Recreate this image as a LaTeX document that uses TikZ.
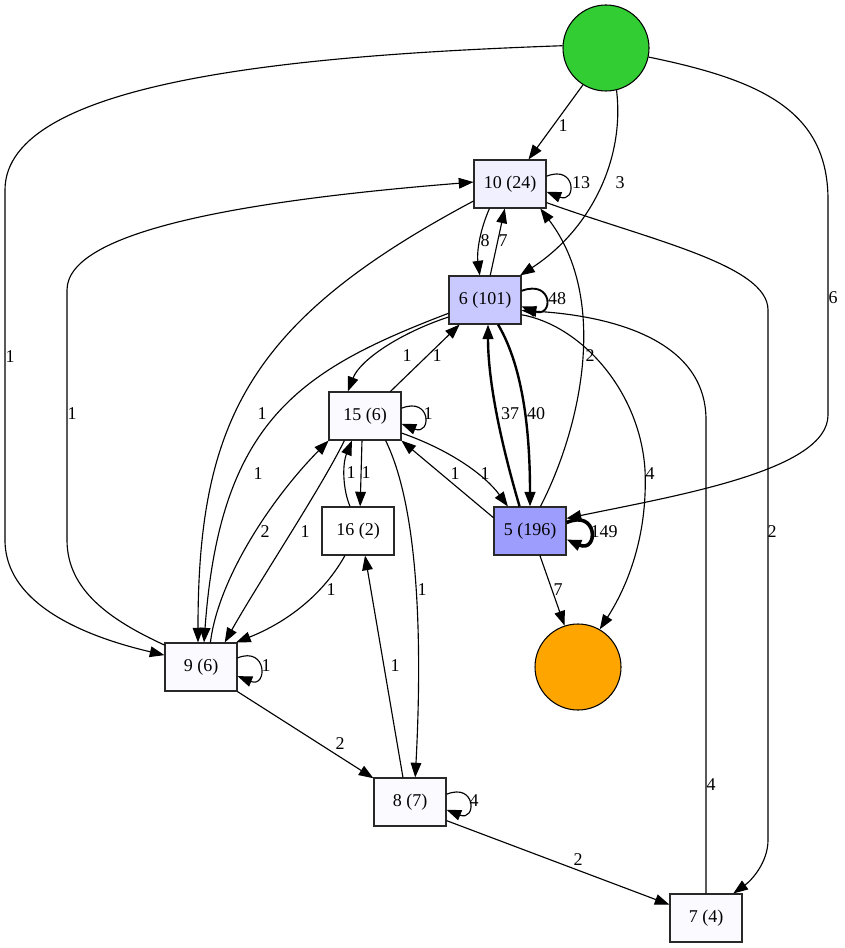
\documentclass[tikz,border=0pt]{standalone}
\usepackage{fontspec}
\setmainfont{Liberation Serif}
\usetikzlibrary{arrows.meta}
\definecolor{cTen}{RGB}{240,240,255}
\definecolor{cSix}{RGB}{201,201,255}
\definecolor{cFive}{RGB}{157,157,254}
\definecolor{cPale}{RGB}{250,250,255}
\definecolor{cGreen}{RGB}{50,205,50}
\definecolor{cOrange}{RGB}{255,165,0}
\definecolor{cBorder}{RGB}{40,40,40}
\begin{document}
\begin{tikzpicture}[x=0.75pt,y=-0.75pt,
  box/.style={draw=cBorder, line width=0.8pt, rectangle, minimum width=54pt, minimum height=36pt, inner sep=0pt, font=\fontsize{13.5}{16}\selectfont},
  circ/.style={draw, line width=0.8pt, circle, minimum size=64.5pt, inner sep=0pt},
  tip/.style={-{Triangle[length=11pt,width=8pt]}},
  edge/.style={line width=0.85pt, tip},
  thickedge/.style={line width=1.8pt, tip},
  heavyedge/.style={line width=2.7pt, tip},
  lab/.style={inner sep=0pt, font=\fontsize{13.5}{16}\selectfont},
]
\useasboundingbox (0,0) rectangle (844,948);
% nodes
\node[circ, fill=cGreen] (s) at (606,48) {};
\node[circ, fill=cOrange] (e) at (578,667) {};
\node[box, fill=cTen] (n10) at (510,184) {10 (24)};
\node[box, fill=cSix] (n6) at (485,300) {6 (101)};
\node[box, fill=cPale] (n15) at (365,416) {15 (6)};
\node[box, fill=white] (n16) at (358,531) {16 (2)};
\node[box, fill=cFive] (n5) at (530,531) {5 (196)};
\node[box, fill=cPale] (n9) at (201,667) {9 (6)};
\node[box, fill=cPale] (n8) at (410,802) {8 (7)};
\node[box, fill=cPale] (n7) at (706,918) {7 (4)};

% edges
\draw[edge] (s.-122) -- (n10.53);
\node[lab] (l1) at (563,126) {1};
\draw[edge] (s.-76) .. controls (625,160) and (590,230) .. (n6.35);
\node[lab] (l2) at (620,183) {3};
\draw[edge] (s.-12) .. controls (760,80) and (828,110) .. (828,200) -- (828,415) .. controls (828,470) and (680,495) .. (n5.19);
\node[lab] (l3) at (833,298) {6};
\draw[edge] (s.177) .. controls (300,55) and (5,80) .. (5,190) -- (5,540) .. controls (5,610) and (100,640) .. (n9.162);
\node[lab] (l4) at (10,357) {1};

\draw[edge] (n10.12) .. controls +(30,-12) and +(30,12) .. (n10.-12);
\node[lab] (l5) at (581,183) {13};
\draw[edge] (n10.-130) .. controls (478,235) and (477,255) .. (n6.102);
\node[lab] (l6) at (485,241) {8};
\draw[edge] (n6.78) -- (n10.-102);
\node[lab] (l7) at (503,241) {7};
\draw[edge] (n10.-155) .. controls (250,320) and (198,420) .. (n9.97);
\node[lab] (l8) at (262,414) {1};
\draw[edge] (n10.-27) .. controls (650,240) and (768,265) .. (768,310) -- (768,840) .. controls (768,862) and (752,880) .. (n7.42);
\node[lab] (l9) at (772,532) {2};
\draw[edge] (n9.149) .. controls (110,620) and (67,590) .. (67,540) -- (67,290) .. controls (67,230) and (250,200) .. (n10.177);
\node[lab] (l10) at (72,414) {1};

\draw[line width=1.4pt, tip] (n6.14) .. controls +(32,-12) and +(32,12) .. (n6.-10);
\node[lab] (l11) at (557,299) {48};
\draw[edge] (n6.-155) .. controls (400,333) and (360,360) .. (n15.125);
\node[lab] (l12) at (407,356) {1};
\draw[edge] (n15.44) -- (n6.-136);
\node[lab] (l13) at (437,356) {1};
\draw[edge] (n6.-160) .. controls (300,370) and (220,420) .. (n9.83);
\node[lab] (l14) at (258,474) {1};
\draw[thickedge] (n6.-62) .. controls (525,370) and (530,440) .. (n5.90);
\node[lab] (l15) at (536,414) {40};
\draw[thickedge] (n5.113) .. controls (500,440) and (488,380) .. (n6.-83);
\node[lab] (l16) at (510,414) {37};
\draw[edge] (n6.-22) .. controls (580,325) and (640,390) .. (645,470) .. controls (648,540) and (625,590) .. (e.60);
\node[lab] (l17) at (650,474) {4};
\draw[edge] (n7.north) -- (706,420) .. controls (706,335) and (600,315) .. (n6.-16);
\node[lab] (l18) at (711,785) {4};

\draw[edge] (n15.12) .. controls +(30,-12) and +(30,12) .. (n15.-12);
\node[lab] (l19) at (428,414) {1};
\draw[edge] (n15.-97) -- (n16.85);
\node[lab] (l20) at (366,473) {1};
\draw[edge] (n16.108) .. controls (343,490) and (342,465) .. (n15.-118);
\node[lab] (l21) at (351,473) {1};
\draw[edge] (n15.-25) .. controls (450,450) and (485,475) .. (n5.132);
\node[lab] (l22) at (485,474) {1};
\draw[edge] (n5.160) -- (n15.-34);
\node[lab] (l23) at (455,474) {1};
\draw[edge] (n15.-50) .. controls (420,510) and (422,650) .. (n8.78);
\node[lab] (l24) at (422,590) {1};
\draw[edge] (n15.-130) .. controls (320,490) and (260,580) .. (n9.46);
\node[lab] (l25) at (305,532) {1};
\draw[edge] (n9.69) .. controls (218,580) and (270,500) .. (n15.-146);
\node[lab] (l26) at (265,532) {2};
\draw[edge] (n16.-118) .. controls (320,600) and (280,625) .. (n9.35);
\node[lab] (l27) at (331,590) {1};

\draw[heavyedge] (n5.13) .. controls +(32,-14) and +(32,14) .. (n5.-13);
\node[lab] (l28) at (604,532) {149};
\draw[edge] (n5.67) .. controls (580,430) and (610,300) .. (n10.-39);
\node[lab] (l29) at (590,356) {2};
\draw[edge] (n5.-68) -- (e.108);
\node[lab] (l30) at (558,590) {7};

\draw[edge] (n9.14) .. controls +(30,-12) and +(30,12) .. (n9.-14);
\node[lab] (l31) at (266,666) {1};
\draw[edge] (n9.-34) -- (n8.147);
\node[lab] (l32) at (340,744) {2};
\draw[edge] (n8.106) -- (n16.-74);
\node[lab] (l33) at (395,666) {1};
\draw[edge] (n8.12) .. controls +(30,-12) and +(30,12) .. (n8.-12);
\node[lab] (l34) at (474,801) {4};
\draw[edge] (n8.-27) -- (n7.160);
\node[lab] (l35) at (578,860) {2};
\end{tikzpicture}
\end{document}
